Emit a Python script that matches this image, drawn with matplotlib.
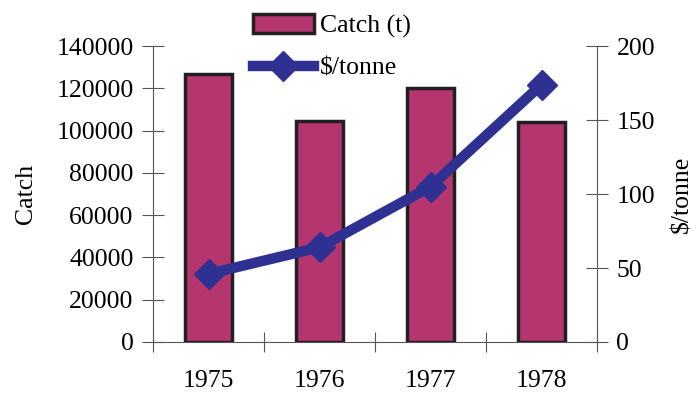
import matplotlib
matplotlib.use("Agg")
import matplotlib.pyplot as plt
import numpy as np

years = ["1975", "1976", "1977", "1978"]
catch_t = [127000, 104500, 120000, 104000]
price_per_tonne = [46, 64, 105, 174]

plt.rcParams["font.family"] = ["Liberation Serif", "DejaVu Serif"]
plt.rcParams["font.size"] = 18.5

bar_color = "#B5366F"
line_color = "#2E3192"

fig = plt.figure(figsize=(7.0, 3.94), dpi=100)
ax = fig.add_axes([0.2186, 0.132, 0.6343, 0.751])
ax2 = ax.twinx()

x = np.arange(len(years))
bars = ax.bar(x, catch_t, width=0.42, color=bar_color, edgecolor="#231F20",
              linewidth=2.5, label="Catch (t)", zorder=2)
line, = ax2.plot(x, price_per_tonne, color=line_color, linewidth=7.5,
                 marker="D", markersize=15, label="$/tonne", zorder=3)

ax.set_xlim(-0.5, len(years) - 0.5)
ax.set_ylim(0, 140000)
ax2.set_ylim(0, 200)
ax.set_yticks(np.arange(0, 140001, 20000))
ax2.set_yticks(np.arange(0, 201, 50))

ax.set_xticks(x)
ax.set_xticklabels(years)
ax.set_xticks(np.arange(-0.5, len(years), 1.0), minor=True)
ax.tick_params(axis="x", which="major", length=0, pad=20)
ax.tick_params(axis="x", which="minor", direction="inout", length=15, width=0.8, color="#555555")
ax.tick_params(axis="y", direction="inout", length=16, width=0.8, color="#555555", pad=6)
ax2.tick_params(axis="y", direction="inout", length=16, width=0.8, color="#555555", pad=6)

for a in (ax, ax2):
    a.spines["top"].set_visible(False)
    for s in ("left", "right", "bottom"):
        a.spines[s].set_color("#555555")
        a.spines[s].set_linewidth(0.8)
ax.spines["right"].set_visible(False)
ax2.spines["left"].set_visible(False)
ax2.spines["bottom"].set_visible(False)

ax.set_zorder(ax2.get_zorder() - 1)
ax2.patch.set_visible(False)

ax.set_ylabel("Catch", labelpad=14)
ax2.set_ylabel("\\$/tonne", labelpad=12)

fig.legend([bars, line], ["Catch (t)", "\\$/tonne"], loc="upper left",
           bbox_to_anchor=(0.336, 1.01), frameon=False, handlelength=2.35,
           handleheight=0.75, labelspacing=0.72, handletextpad=0.25, borderpad=0.2)

fig.savefig("out.png", dpi=100)
